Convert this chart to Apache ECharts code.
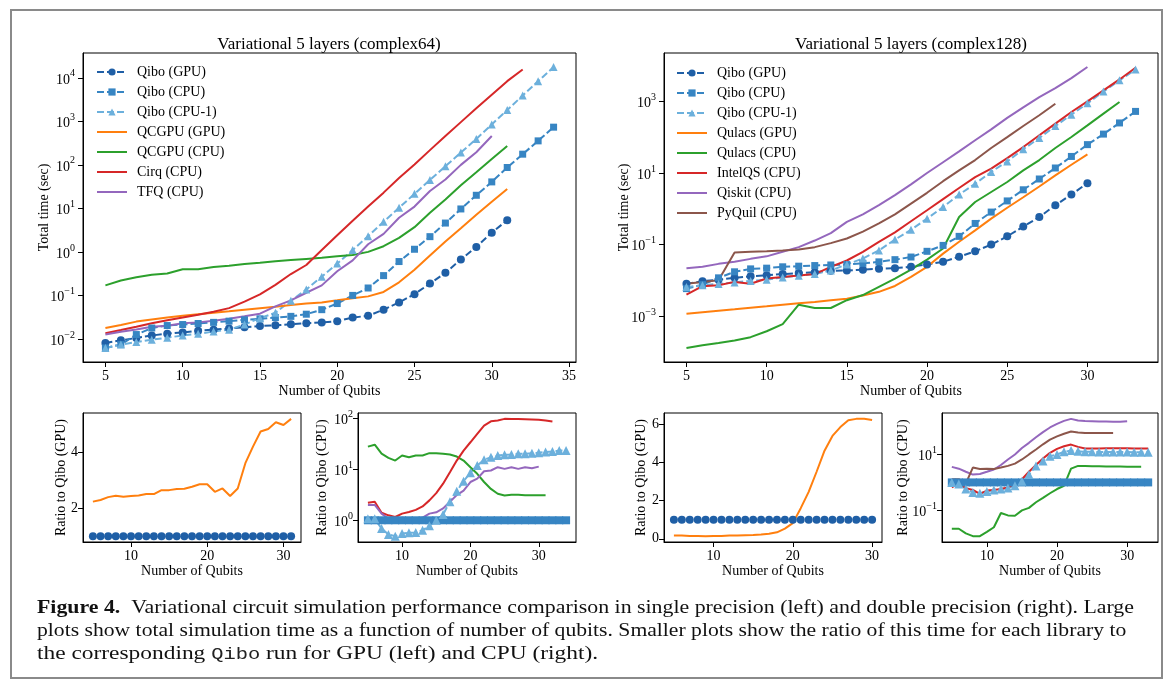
<!DOCTYPE html>
<html>
<head>
<meta charset="utf-8">
<title>Figure 4</title>
<script src="https://cdn.jsdelivr.net/npm/echarts@6.0.0/dist/echarts.min.js"></script>
<style>
html,body{margin:0;padding:0;background:#fff;}
#main{width:1166px;height:684px;}
</style>
</head>
<body>
<div id="main"></div>
<script>
// every series starts at 5 qubits
var firstQubit = 5;

// total time (sec), complex64
var c64QiboGpu = [0.0081,0.0093,0.0105,0.012,0.0132,0.0141,0.0155,0.0163,0.0173,0.0185,0.0199,0.0205,0.0217,0.023,0.0238,0.0256,0.031,0.034,0.047,0.069,0.107,0.187,0.33,0.67,1.30,2.77,5.35];
var c64QiboCpu = [0.0062,0.0074,0.0126,0.0178,0.0203,0.0214,0.0226,0.024,0.0256,0.0275,0.029,0.031,0.033,0.037,0.047,0.065,0.1,0.148,0.285,0.60,1.15,2.24,4.6,9.7,20,40.6,87,176,356,735];
var c64QiboCpu1 = [0.0062,0.0074,0.0085,0.0096,0.0107,0.012,0.0131,0.0148,0.0163,0.0215,0.030,0.040,0.075,0.137,0.27,0.54,1.1,2.3,4.9,10.3,21.6,45,93,192,395,850,1820,3930,8400,17700];
var c64QcgpuGpu = [0.0178,0.021,0.025,0.028,0.031,0.034,0.037,0.040,0.043,0.047,0.051,0.055,0.060,0.065,0.069,0.077,0.086,0.095,0.12,0.2,0.39,0.83,1.74,3.5,7.1,14.2,28];
var c64QcgpuCpu = [0.17,0.22,0.26,0.30,0.32,0.40,0.40,0.45,0.48,0.53,0.56,0.61,0.65,0.69,0.73,0.79,0.85,1.0,1.35,2.1,3.7,7.9,16,34,68,137,270];
var c64Cirq = [0.0135,0.016,0.019,0.023,0.027,0.031,0.036,0.042,0.051,0.072,0.106,0.175,0.31,0.5,1.1,2.4,5.2,11,23,50,102,218,460,960,2000,4100,8400,15500];
var c64Tfq = [0.0126,0.0146,0.0165,0.019,0.020,0.023,0.024,0.026,0.029,0.033,0.038,0.056,0.077,0.115,0.17,0.36,0.64,1.5,2.6,6.1,11,25,46,100,195,460];

// total time (sec), complex128
var c128QiboGpu = [0.0081,0.0095,0.0105,0.0118,0.013,0.014,0.015,0.016,0.017,0.0185,0.019,0.020,0.0213,0.022,0.024,0.028,0.033,0.046,0.065,0.1,0.17,0.32,0.59,1.26,2.5,5.2];
var c128QiboCpu = [0.0059,0.0076,0.0118,0.0174,0.021,0.022,0.024,0.025,0.026,0.027,0.0277,0.030,0.033,0.038,0.045,0.065,0.095,0.17,0.39,0.81,1.66,3.4,6.8,13.8,29,62,122,250,525];
var c128QiboCpu1 = [0.0065,0.0073,0.008,0.0088,0.0097,0.0105,0.0121,0.0135,0.015,0.019,0.028,0.041,0.069,0.138,0.26,0.53,1.12,2.5,5.0,10.7,21,46,95,205,425,880,1900,3870,7800];
var c128QulacsGpu = [0.00118,0.0013,0.00143,0.00157,0.00173,0.0019,0.0021,0.0023,0.0025,0.0028,0.0031,0.0038,0.0048,0.007,0.0126,0.024,0.056,0.12,0.25,0.53,1.07,2.1,4.2,8.6,17,33];
var c128QulacsCpu = [0.00013,0.000155,0.00018,0.00021,0.00026,0.00038,0.0006,0.0021,0.0017,0.0017,0.0028,0.0039,0.0066,0.0112,0.020,0.038,0.078,0.59,1.55,2.95,5.6,11.8,23,50,101,214,454,960];
var c128IntelQs = [0.004,0.0069,0.0073,0.0091,0.0081,0.0113,0.0124,0.0138,0.015,0.024,0.036,0.063,0.12,0.22,0.45,0.91,1.87,3.8,7.7,13.2,26,53,113,240,505,1000,2030,4100,8700];
var c128Qiskit = [0.022,0.024,0.029,0.033,0.040,0.047,0.063,0.085,0.13,0.21,0.43,0.70,1.26,2.4,4.8,10,20,40,82,165,345,680,1320,2350,4470,9100];
var c128PyQuil = [0.0081,0.0091,0.0101,0.06,0.063,0.065,0.068,0.073,0.085,0.11,0.148,0.23,0.39,0.70,1.4,2.8,5.9,11.8,23,50,100,205,410,860];

// ratio to Qibo, complex64
var gpu64Qibo = [1,1,1,1,1,1,1,1,1,1,1,1,1,1,1,1,1,1,1,1,1,1,1,1,1,1,1];
var gpu64Qcgpu = [2.23,2.29,2.39,2.44,2.40,2.43,2.45,2.50,2.50,2.64,2.64,2.68,2.69,2.76,2.85,2.85,2.58,2.70,2.43,2.70,3.6,4.19,4.73,4.82,5.06,4.96,5.18];
var cpu64Qibo = [1,1,1,1,1,1,1,1,1,1,1,1,1,1,1,1,1,1,1,1,1,1,1,1,1,1,1,1,1,1];
var cpu64QiboCpu1 = [1.07,1.07,0.69,0.53,0.49,0.55,0.57,0.58,0.64,0.78,1.0,1.3,2.3,3.7,5.8,8.5,11.8,15.2,17,18.5,19,19.3,20,20,20.5,21,21.5,22,23,23];
var cpu64Qcgpu = [27.5,30,20,16.6,14.7,18.5,17,18.5,18.5,20.5,20.5,20,19.3,17.6,14.7,10.9,8.1,5.6,4.1,3.3,3.06,3.15,3.15,3.1,3.07,3.07,3.07];
var cpu64Cirq = [2.2,2.3,1.4,1.25,1.16,1.35,1.45,1.6,1.87,2.45,3.4,5.2,8.7,14.7,23,33.5,49,71,86,89,96,95,95,94,93,92,89,85];
var cpu64Tfq = [2.0,2.0,1.35,1.08,0.89,1.13,1.06,1.09,1.13,1.35,1.43,1.7,2.3,3.1,3.8,5.6,6.5,9.1,9.4,10.9,10.1,10.9,10.1,10.9,10.4,11.2];

// ratio to Qibo, complex128
var gpu128Qibo = [1,1,1,1,1,1,1,1,1,1,1,1,1,1,1,1,1,1,1,1,1,1,1,1,1,1];
var gpu128Qulacs = [0.17,0.17,0.15,0.15,0.14,0.15,0.15,0.17,0.17,0.19,0.2,0.22,0.26,0.34,0.53,0.82,1.6,2.45,3.5,4.6,5.37,5.83,6.19,6.26,6.26,6.2];
var cpu128Qibo = [1,1,1,1,1,1,1,1,1,1,1,1,1,1,1,1,1,1,1,1,1,1,1,1,1,1,1,1,1];
var cpu128QiboCpu1 = [1.0,0.87,0.58,0.44,0.41,0.47,0.54,0.58,0.63,0.76,1.1,1.9,3.9,5.8,8.7,10,12.4,13.8,13.1,12.4,12.4,12.3,12.2,12.2,12.1,12.1,12.0,12.0,12.0];
var cpu128Qulacs = [0.022,0.022,0.015,0.012,0.012,0.017,0.025,0.081,0.066,0.064,0.1,0.123,0.195,0.28,0.41,0.58,0.76,3.1,3.9,3.9,3.8,3.8,3.7,3.7,3.7,3.6,3.6,3.6];
var cpu128IntelQs = [0.66,0.95,0.62,0.54,0.39,0.51,0.54,0.58,0.66,0.87,1.3,2.4,4.2,7.2,11.4,15.8,19.6,22.5,18.6,16.3,16.3,16.3,16.5,16.5,16.5,16.7,16.3,16.3,16.3];
var cpu128Qiskit = [3.6,3.1,2.4,1.9,2.0,2.4,2.9,4.2,6.6,10,17,26,41,63,92,124,158,187,163,158,155,150,150,148,148,155];
var cpu128PyQuil = [1.3,1.3,0.92,3.4,3.0,3.1,3.0,3.4,3.9,4.7,6.6,10,15,23,34,44,55,66,61,58,58,58,58,58];

// tick labels
var ticksX64 = [5,10,15,20,25,30,35];
var ticksX128 = [5,10,15,20,25,30];
var ticksXSmall = [10,20,30];
var ticksY64 = [0.01,0.1,1,10,100,1000,10000];
var ticksY128 = [0.001,0.1,10,1000];
var ticksGpu64 = [2,4];
var ticksCpu64 = [1,10,100];
var ticksGpu128 = [0,2,4,6];
var ticksCpu128 = [0.1,10];

var legend64 = ['Qibo (GPU)','Qibo (CPU)','Qibo (CPU-1)','QCGPU (GPU)','QCGPU (CPU)','Cirq (CPU)','TFQ (CPU)'];
var legend128 = ['Qibo (GPU)','Qibo (CPU)','Qibo (CPU-1)','Qulacs (GPU)','Qulacs (CPU)','IntelQS (CPU)','Qiskit (CPU)','PyQuil (CPU)'];
// entries drawn as a plain line, no marker
var plainEntries = ['QCGPU (GPU)','QCGPU (CPU)','Cirq (CPU)','TFQ (CPU)','Qulacs (GPU)','Qulacs (CPU)','IntelQS (CPU)','Qiskit (CPU)','PyQuil (CPU)'];

var captionLines = [
	'{bold|Figure 4.}  Variational circuit simulation performance comparison in single precision (left) and double precision (right). Large',
	'plots show total simulation time as a function of number of qubits. Smaller plots show the ratio of this time for each library to',
	'the corresponding {mono|Qibo} run for GPU (left) and CPU (right).'
];

var serif = "'Liberation Serif', 'Times New Roman', serif";
var C = {dark:'#1f5fa6', mid:'#3785c3', light:'#6cb0dc', orange:'#ff7f0e', green:'#2ca02c', red:'#d62728', purple:'#9467bd', brown:'#8c564b'};

function pairs(vals) {
	return vals.map(function (v, i) { return [firstQubit + i, v]; });
}
// matplotlib style 5% margins
function qubitRange(list) {
	var n = 0;
	list.forEach(function (a) { n = Math.max(n, a.length); });
	var last = firstQubit + n - 1, m = (last - firstQubit) * 0.05;
	return [firstQubit - m, last + m];
}
function logRange(list) {
	var all = [].concat.apply([], list).map(function (v) { return Math.log10(v); });
	var lo = Math.min.apply(null, all), hi = Math.max.apply(null, all), m = (hi - lo) * 0.05;
	return [Math.pow(10, lo - m), Math.pow(10, hi + m)];
}
function linRange(list) {
	var all = [].concat.apply([], list);
	var lo = Math.min.apply(null, all), hi = Math.max.apply(null, all), m = (hi - lo) * 0.05;
	return [lo - m, hi + m];
}

function powLabel(v) {
	var e = Math.round(Math.log10(v));
	return '{b|10}{s|' + (e < 0 ? '\u2212' + (-e) : e) + '}';
}
var powRich = {
	b: {fontFamily: serif, fontSize: 14, color: '#000', lineHeight: 18, verticalAlign: 'bottom'},
	s: {fontFamily: serif, fontSize: 10, color: '#000', lineHeight: 10, verticalAlign: 'top'}
};

function baseAxis(gi, range, ticks) {
	return {
		gridIndex: gi, min: range[0], max: range[1],
		axisLine: {show: true, onZero: false, lineStyle: {color: '#000', width: 1}},
		axisTick: {show: true, inside: false, length: 5, customValues: ticks, lineStyle: {color: '#000', width: 1}},
		axisLabel: {customValues: ticks, color: '#000', fontFamily: serif, fontSize: 14, margin: 7},
		splitLine: {show: false},
		nameTextStyle: {color: '#000', fontFamily: serif, fontSize: 14},
		nameLocation: 'middle'
	};
}
function xAxisCfg(gi, range, ticks, gap) {
	var a = baseAxis(gi, range, ticks);
	a.type = 'value';
	a.name = 'Number of Qubits';
	a.nameGap = gap;
	return a;
}
function yAxisCfg(gi, range, ticks, name, gap, isLog, margin) {
	var a = baseAxis(gi, range, ticks);
	a.type = isLog ? 'log' : 'value';
	if (isLog) {
		a.logBase = 10;
		a.axisLabel.formatter = powLabel;
		a.axisLabel.rich = powRich;
	}
	a.axisLabel.margin = margin;
	a.name = name;
	a.nameGap = gap;
	a.nameMoveOverlap = false;
	return a;
}

function dashed(name, vals, gi, color, symbol, size) {
	return {
		type: 'line', name: name, xAxisIndex: gi, yAxisIndex: gi, data: pairs(vals),
		symbol: symbol, symbolSize: size, showSymbol: true,
		itemStyle: {color: color}, lineStyle: {color: color, width: 2, type: [7, 3]}
	};
}
function solid(name, vals, gi, color) {
	return {
		type: 'line', name: name, xAxisIndex: gi, yAxisIndex: gi, data: pairs(vals),
		showSymbol: false, symbol: 'none',
		itemStyle: {color: color}, lineStyle: {color: color, width: 2}
	};
}
function dots(name, vals, gi, color, symbol, size) {
	var s = dashed(name, vals, gi, color, symbol, size);
	s.lineStyle.opacity = 0;
	return s;
}
function legendItems(names) {
	return names.map(function (n) {
		return plainEntries.indexOf(n) >= 0 ? {name: n, itemStyle: {opacity: 0}} : {name: n};
	});
}
function legendCfg(names, left, top) {
	return {
		data: legendItems(names), orient: 'vertical', left: left, top: top,
		itemWidth: 30, itemHeight: 9, itemGap: 6, selectedMode: false, padding: 0,
		textStyle: {fontFamily: serif, fontSize: 14, color: '#000', lineHeight: 14, padding: [0, 0, 0, 5]}
	};
}
// caption line: x scale chosen so the line reaches the reference's right end
function captionText(i, y, scale) {
	return {
		type: 'text', silent: true, x: 37, y: y, scaleX: scale,
		style: {
			text: captionLines[i], fontFamily: serif, fontSize: 19.5, fill: '#111',
			rich: {
				bold: {fontFamily: serif, fontSize: 19.5, fontWeight: 'bold', fill: '#111'},
				mono: {fontFamily: "'Liberation Mono', monospace", fontSize: 17, fill: '#222'}
			}
		}
	};
}

var x64 = qubitRange([c64QiboCpu]);
var x128 = qubitRange([c128QiboCpu]);

var option = {
	animation: false,
	backgroundColor: '#fff',
	title: [
		{text: 'Variational 5 layers (complex64)', left: 329, top: 36, textAlign: 'center', padding: 0,
			textStyle: {fontFamily: serif, fontSize: 17, fontWeight: 'normal', color: '#000'}},
		{text: 'Variational 5 layers (complex128)', left: 911, top: 36, textAlign: 'center', padding: 0,
			textStyle: {fontFamily: serif, fontSize: 17, fontWeight: 'normal', color: '#000'}}
	],
	legend: [legendCfg(legend64, 96, 65), legendCfg(legend128, 676, 66)],
	grid: [
		{left: 83, top: 53, width: 493, height: 309},
		{left: 664, top: 53, width: 494, height: 309},
		{left: 83, top: 413, width: 218, height: 129},
		{left: 358, top: 413, width: 218, height: 129},
		{left: 664, top: 413, width: 218, height: 129},
		{left: 942, top: 413, width: 216, height: 129}
	].map(function (g) {
		g.show = true; g.borderColor = '#000'; g.borderWidth = 1; g.containLabel = false;
		return g;
	}),
	xAxis: [
		xAxisCfg(0, x64, ticksX64, 20),
		xAxisCfg(1, x128, ticksX128, 20),
		xAxisCfg(2, qubitRange([gpu64Qcgpu]), ticksXSmall, 20),
		xAxisCfg(3, qubitRange([cpu64QiboCpu1]), ticksXSmall, 20),
		xAxisCfg(4, qubitRange([gpu128Qulacs]), ticksXSmall, 20),
		xAxisCfg(5, qubitRange([cpu128QiboCpu1]), ticksXSmall, 20)
	],
	yAxis: [
		yAxisCfg(0, logRange([c64QiboGpu, c64QiboCpu, c64QiboCpu1, c64QcgpuGpu, c64QcgpuCpu, c64Cirq, c64Tfq]), ticksY64, 'Total time (sec)', 32, true, 8),
		yAxisCfg(1, logRange([c128QiboGpu, c128QiboCpu, c128QiboCpu1, c128QulacsGpu, c128QulacsCpu, c128IntelQs, c128Qiskit, c128PyQuil]), ticksY128, 'Total time (sec)', 33, true, 8),
		yAxisCfg(2, linRange([gpu64Qibo, gpu64Qcgpu]), ticksGpu64, 'Ratio to Qibo (GPU)', 15, false, 5),
		yAxisCfg(3, logRange([cpu64Qibo, cpu64QiboCpu1, cpu64Qcgpu, cpu64Cirq, cpu64Tfq]), ticksCpu64, 'Ratio to Qibo (CPU)', 29, true, 5),
		yAxisCfg(4, linRange([gpu128Qibo, gpu128Qulacs]), ticksGpu128, 'Ratio to Qibo (GPU)', 16, false, 5),
		yAxisCfg(5, logRange([cpu128Qibo, cpu128QiboCpu1, cpu128Qulacs, cpu128IntelQs, cpu128Qiskit, cpu128PyQuil]), ticksCpu128, 'Ratio to Qibo (CPU)', 32, true, 5)
	],
	series: [
		dashed('Qibo (GPU)', c64QiboGpu, 0, C.dark, 'circle', 8),
		dashed('Qibo (CPU)', c64QiboCpu, 0, C.mid, 'rect', 7),
		dashed('Qibo (CPU-1)', c64QiboCpu1, 0, C.light, 'triangle', 8),
		solid('QCGPU (GPU)', c64QcgpuGpu, 0, C.orange),
		solid('QCGPU (CPU)', c64QcgpuCpu, 0, C.green),
		solid('Cirq (CPU)', c64Cirq, 0, C.red),
		solid('TFQ (CPU)', c64Tfq, 0, C.purple),

		dashed('Qibo (GPU)', c128QiboGpu, 1, C.dark, 'circle', 8),
		dashed('Qibo (CPU)', c128QiboCpu, 1, C.mid, 'rect', 7),
		dashed('Qibo (CPU-1)', c128QiboCpu1, 1, C.light, 'triangle', 8),
		solid('Qulacs (GPU)', c128QulacsGpu, 1, C.orange),
		solid('Qulacs (CPU)', c128QulacsCpu, 1, C.green),
		solid('IntelQS (CPU)', c128IntelQs, 1, C.red),
		solid('Qiskit (CPU)', c128Qiskit, 1, C.purple),
		solid('PyQuil (CPU)', c128PyQuil, 1, C.brown),

		dots('gpu64 qibo', gpu64Qibo, 2, C.dark, 'circle', 8),
		solid('gpu64 qcgpu', gpu64Qcgpu, 2, C.orange),

		dots('cpu64 qibo', cpu64Qibo, 3, C.mid, 'rect', 8),
		dashed('cpu64 qibo-1', cpu64QiboCpu1, 3, C.light, 'triangle', 9),
		solid('cpu64 qcgpu', cpu64Qcgpu, 3, C.green),
		solid('cpu64 cirq', cpu64Cirq, 3, C.red),
		solid('cpu64 tfq', cpu64Tfq, 3, C.purple),

		dots('gpu128 qibo', gpu128Qibo, 4, C.dark, 'circle', 8),
		solid('gpu128 qulacs', gpu128Qulacs, 4, C.orange),

		dots('cpu128 qibo', cpu128Qibo, 5, C.mid, 'rect', 8),
		dashed('cpu128 qibo-1', cpu128QiboCpu1, 5, C.light, 'triangle', 9),
		solid('cpu128 qulacs', cpu128Qulacs, 5, C.green),
		solid('cpu128 intelqs', cpu128IntelQs, 5, C.red),
		solid('cpu128 qiskit', cpu128Qiskit, 5, C.purple),
		solid('cpu128 pyquil', cpu128PyQuil, 5, C.brown)
	],
	graphic: [
		{type: 'rect', silent: true, z: -10, shape: {x: 11, y: 10, width: 1151, height: 668},
			style: {fill: 'none', stroke: '#8a8a8a', lineWidth: 2}},
		captionText(0, 598, 1.12),
		captionText(1, 621, 1.11),
		captionText(2, 644, 1.2)
	]
};

var chart = echarts.init(document.getElementById('main'));
chart.setOption(option);
</script>
</body>
</html>
